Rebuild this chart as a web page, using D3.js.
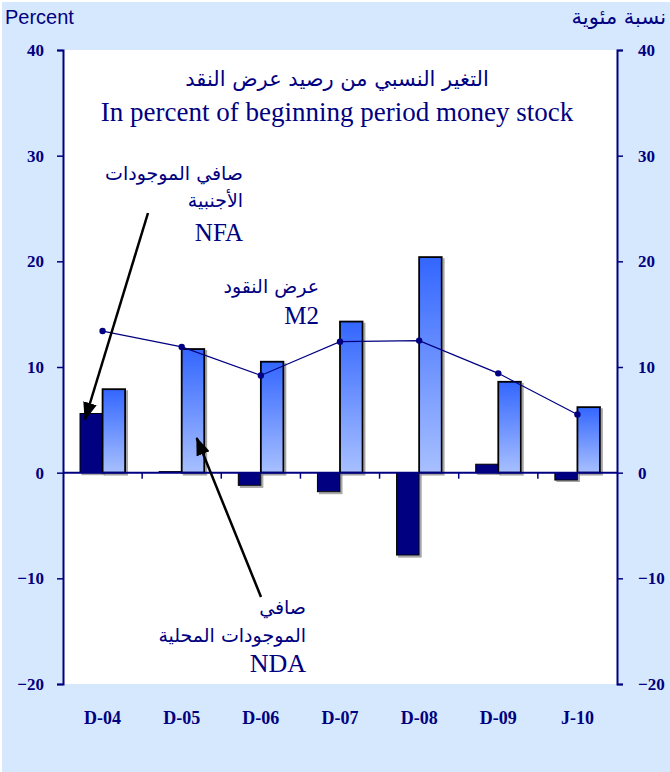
<!DOCTYPE html>
<html><head><meta charset="utf-8">
<script src="https://cdn.jsdelivr.net/npm/d3@7"></script>
<style>body{margin:0;background:#fff}svg{display:block}</style>
</head><body>
<script>
const categories = ["D-04","D-05","D-06","D-07","D-08","D-09","J-10"];
const nfa = [5.6, 0.1, -1.2, -1.8, -7.8, 0.8, -0.7];
const nda = [7.9, 11.7, 10.5, 14.3, 20.4, 8.6, 6.2];
const m2  = [13.4, 11.9, 9.2, 12.4, 12.5, 9.4, 5.5];
const yTicks = [-20, -10, 0, 10, 20, 30, 40];

const W = 670, H = 772;
const L = 63, R = 617, T = 50, B = 684;
const navy = "#000080";

const svg = d3.select("body").append("svg").attr("width", W).attr("height", H);
const defs = svg.append("defs");
const grad = defs.append("linearGradient").attr("id","gNDA").attr("x1",0).attr("y1",0).attr("x2",0).attr("y2",1);
grad.append("stop").attr("offset","0%").attr("stop-color","#3366ff");
grad.append("stop").attr("offset","100%").attr("stop-color","#a8c0ff");
const sh = defs.append("filter").attr("id","shadow").attr("x","-20%").attr("y","-20%").attr("width","140%").attr("height","140%");
sh.append("feDropShadow").attr("dx",2).attr("dy",2).attr("stdDeviation",0.6).attr("flood-color","#808080").attr("flood-opacity",0.7);
defs.append("marker").attr("id","arrow").attr("viewBox","0 0 18 14").attr("refX",17).attr("refY",7)
  .attr("markerWidth",18).attr("markerHeight",14).attr("markerUnits","userSpaceOnUse").attr("orient","auto")
  .append("path").attr("d","M0,0 L18,7 L0,14 z").attr("fill","#000");

svg.append("rect").attr("x",2).attr("y",2).attr("width",W-2).attr("height",H-2).attr("fill","#d6e8fd");
svg.append("rect").attr("x",L).attr("y",T).attr("width",R-L).attr("height",B-T).attr("fill","#fff");

const x = d3.scaleBand().domain(categories).range([L, R]).paddingInner(0.43).paddingOuter(0.215);
const x1 = d3.scaleBand().domain(["NFA","NDA"]).range([0, x.bandwidth()]);
const y = d3.scaleLinear().domain([-20, 40]).range([B, T]);

// frame top/bottom
svg.append("line").attr("x1",L).attr("x2",R).attr("y1",T).attr("y2",T).attr("stroke","#505060").attr("stroke-width",2).attr("filter","url(#shadow)");
svg.append("line").attr("x1",L).attr("x2",R).attr("y1",B).attr("y2",B).attr("stroke","#505060").attr("stroke-width",2).attr("filter","url(#shadow)");

// bars
const data = categories.map((c,i)=>({c, nfa:nfa[i], nda:nda[i], m2:m2[i]}));
const g = svg.append("g");
g.selectAll("rect.nfa").data(data).join("rect").attr("class","nfa")
  .attr("x", d=>x(d.c)+x1("NFA")).attr("width", x1.bandwidth())
  .attr("y", d=>y(Math.max(0,d.nfa))).attr("height", d=>Math.abs(y(d.nfa)-y(0)))
  .attr("fill", navy).attr("stroke","#000").attr("stroke-width",1).attr("filter","url(#shadow)");
g.selectAll("rect.nda").data(data).join("rect").attr("class","nda")
  .attr("x", d=>x(d.c)+x1("NDA")).attr("width", x1.bandwidth())
  .attr("y", d=>y(Math.max(0,d.nda))).attr("height", d=>Math.abs(y(d.nda)-y(0)))
  .attr("fill", "url(#gNDA)").attr("stroke","#000").attr("stroke-width",1.8).attr("filter","url(#shadow)");

// zero line + category ticks
svg.append("line").attr("x1",L).attr("x2",R).attr("y1",y(0)).attr("y2",y(0)).attr("stroke",navy).attr("stroke-width",2);
const step = x.step();
svg.selectAll("line.xt").data(d3.range(1, categories.length)).join("line").attr("class","xt")
  .attr("x1", i=>L+i*step).attr("x2", i=>L+i*step).attr("y1", y(0)).attr("y2", y(0)+6)
  .attr("stroke", navy).attr("stroke-width",1.5);

// M2 line
const cx = d => x(d.c) + x.bandwidth()/2;
svg.append("path").datum(data).attr("fill","none").attr("stroke",navy).attr("stroke-width",1.2)
  .attr("d", d3.line().x(cx).y(d=>y(d.m2)));
svg.selectAll("circle.m2").data(data).join("circle").attr("class","m2")
  .attr("cx", cx).attr("cy", d=>y(d.m2)).attr("r",3.2).attr("fill",navy);

// axes
const serif = "'Liberation Serif', 'Times New Roman', serif";
const arab = "'DejaVu Sans', sans-serif";
const axL = svg.append("g").attr("transform",`translate(${L},0)`).call(d3.axisLeft(y).tickValues(yTicks).tickSize(6).tickPadding(13).tickFormat(d3.format("d")));
const axR = svg.append("g").attr("transform",`translate(${R},0)`).call(d3.axisRight(y).tickValues(yTicks).tickSize(6).tickPadding(15).tickFormat(d3.format("d")));
[axL, axR].forEach(a=>{
  a.select(".domain").attr("stroke",navy).attr("stroke-width",2);
  a.selectAll(".tick line").attr("stroke",navy).attr("stroke-width",1.5);
  a.selectAll(".tick text").attr("fill",navy).attr("font-family",serif)
    .attr("font-weight","bold").attr("font-size",17);
});
const axB = svg.append("g").attr("transform",`translate(0,${B})`).call(d3.axisBottom(x).tickSize(0).tickPadding(27));
axB.select(".domain").remove();
axB.selectAll(".tick text").attr("fill",navy).attr("font-family",serif)
  .attr("font-weight","bold").attr("font-size",18);

// texts
function txt(s, xx, yy, anchor, fam, size){
  return svg.append("text").attr("x",xx).attr("y",yy).attr("text-anchor",anchor)
    .attr("font-family",fam).attr("font-size",size).attr("fill",navy).text(s);
}
txt("Percent", 5, 24, "start", "'Liberation Sans', Arial, sans-serif", 20);
txt("نسبة مئوية", 666, 24, "end", arab, 21);
txt("التغير النسبي من رصيد عرض النقد", 337, 86, "middle", arab, 21);
txt("In percent of beginning period money stock", 337, 121, "middle", serif, 27);

txt("صافي الموجودات", 243, 180, "end", arab, 19);
txt("الأجنبية", 243, 207, "end", arab, 19);
txt("NFA", 243, 241, "end", serif, 25);

txt("عرض النقود", 319, 293, "end", arab, 19);
txt("M2", 319, 324, "end", serif, 25);

txt("صافي", 306, 614, "end", arab, 19);
txt("الموجودات المحلية", 306, 642, "end", arab, 19);
txt("NDA", 306, 672, "end", serif, 26);

// arrows (annotation)
const d0 = data[0], d1 = data[1];
svg.append("line").attr("x1",148).attr("y1",213)
  .attr("x2", x(d0.c)+x1("NFA")+5).attr("y2", y(d0.nfa)+6)
  .attr("stroke","#000").attr("stroke-width",2.5).attr("marker-end","url(#arrow)");
svg.append("line").attr("x1",261).attr("y1",597)
  .attr("x2", x(d1.c)+x1("NDA")+15).attr("y2", y(d1.nda*0.28))
  .attr("stroke","#000").attr("stroke-width",2.5).attr("marker-end","url(#arrow)");
</script>
</body></html>
